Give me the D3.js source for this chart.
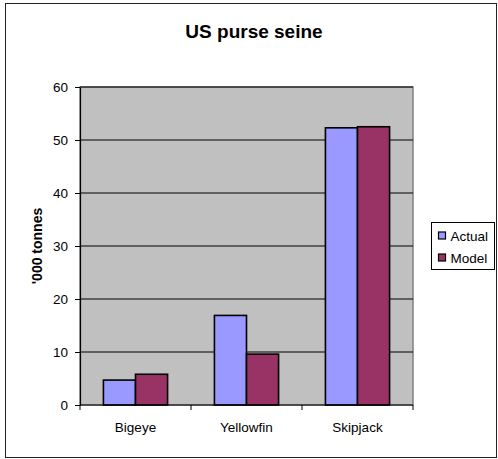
<!DOCTYPE html>
<html>
<head>
<meta charset="utf-8">
<script src="https://cdn.jsdelivr.net/npm/d3@7"></script>
<style>
  html, body { margin: 0; padding: 0; background: #fff; }
  svg { display: block; font-family: "Liberation Sans", Arial, sans-serif; }
</style>
</head>
<body>
<svg id="chart" width="498" height="459"></svg>
<script>
// Catch by species, thousand tonnes
const categories = ["Bigeye", "Yellowfin", "Skipjack"];
const seriesNames = ["Actual", "Model"];
const actual = [4.7, 16.9, 52.3];
const model = [5.8, 9.6, 52.5];
const yTicks = [0, 10, 20, 30, 40, 50, 60];
const colors = ["#9999ff", "#993366"];

const svg = d3.select("#chart");
const plot = { left: 80, right: 413, top: 87, bottom: 405 };
const labelSize = 13.5;

// Outer frame
svg.append("rect")
  .attr("x", 5.5).attr("y", 3.5)
  .attr("width", 491).attr("height", 454)
  .attr("fill", "#fff").attr("stroke", "#222").attr("stroke-width", 1);

// Title
svg.append("text")
  .attr("x", 254).attr("y", 38)
  .attr("text-anchor", "middle")
  .attr("font-size", 19).attr("font-weight", "bold")
  .text("US purse seine");

const x = d3.scaleBand().domain(categories).range([plot.left, plot.right]).paddingInner(0).paddingOuter(0);
const inner = d3.scaleBand().domain(seriesNames).range([0, x.bandwidth()]).paddingInner(0).paddingOuter(0.73);
const y = d3.scaleLinear().domain([0, 60]).range([plot.bottom, plot.top]);

// Plot area
svg.append("rect")
  .attr("x", plot.left).attr("y", plot.top)
  .attr("width", plot.right - plot.left).attr("height", plot.bottom - plot.top)
  .attr("fill", "#c0c0c0").attr("stroke", "#808080").attr("stroke-width", 1.5);

// Gridlines
svg.append("g").selectAll("line")
  .data(yTicks.filter(d => d > 0))
  .join("line")
  .attr("x1", plot.left).attr("x2", plot.right)
  .attr("y1", d => y(d)).attr("y2", d => y(d))
  .attr("stroke", "#000").attr("stroke-width", 1);

// Bars
const rows = categories.map((c, i) => ({ cat: c, values: [actual[i], model[i]] }));
const groups = svg.append("g").selectAll("g")
  .data(rows).join("g")
  .attr("transform", d => `translate(${x(d.cat)},0)`);
groups.selectAll("rect")
  .data(d => d.values.map((v, j) => ({ name: seriesNames[j], v, j })))
  .join("rect")
  .attr("x", d => inner(d.name))
  .attr("width", inner.bandwidth())
  .attr("y", d => y(d.v))
  .attr("height", d => y(0) - y(d.v))
  .attr("fill", d => colors[d.j])
  .attr("stroke", "#000").attr("stroke-width", 1.6);

// Y axis
const yAxis = d3.axisLeft(y).tickValues(yTicks).tickSize(5).tickPadding(7).tickSizeOuter(0);
const gy = svg.append("g").attr("transform", `translate(${plot.left},0)`).call(yAxis);
gy.select(".domain").attr("stroke", "#000").attr("stroke-width", 1.2);
gy.selectAll("text").attr("font-size", labelSize).attr("font-family", "Liberation Sans, Arial, sans-serif").attr("fill", "#000");

// X axis
const gx = svg.append("g").attr("transform", `translate(0,${plot.bottom})`);
gx.append("line")
  .attr("x1", plot.left).attr("x2", plot.right)
  .attr("stroke", "#000").attr("stroke-width", 1.2);
gx.selectAll("line.tick")
  .data(categories.concat(["end"]))
  .join("line").attr("class", "tick")
  .attr("x1", (d, i) => plot.left + i * x.bandwidth())
  .attr("x2", (d, i) => plot.left + i * x.bandwidth())
  .attr("y1", 0).attr("y2", 5)
  .attr("stroke", "#000");
gx.selectAll("text")
  .data(categories).join("text")
  .attr("x", d => x(d) + x.bandwidth() / 2)
  .attr("y", 27)
  .attr("text-anchor", "middle")
  .attr("font-size", labelSize)
  .text(d => d);

// Y axis title
svg.append("text")
  .attr("transform", `translate(42,${(plot.top + plot.bottom) / 2}) rotate(-90)`)
  .attr("text-anchor", "middle")
  .attr("font-size", 14).attr("font-weight", "bold")
  .text("'000 tonnes");

// Legend
const legend = svg.append("g").attr("transform", "translate(431.5,222.5)");
legend.append("rect")
  .attr("width", 63).attr("height", 47)
  .attr("fill", "#fff").attr("stroke", "#000").attr("stroke-width", 1);
const items = legend.selectAll("g.item").data(seriesNames).join("g")
  .attr("class", "item")
  .attr("transform", (d, i) => `translate(7,${13 + i * 22})`);
items.append("rect")
  .attr("x", 0).attr("y", -3.5).attr("width", 7).attr("height", 7)
  .attr("fill", (d, i) => colors[i]).attr("stroke", "#000").attr("stroke-width", 1.2);
items.append("text")
  .attr("x", 12).attr("y", 5)
  .attr("font-size", labelSize)
  .text(d => d);
</script>
</body>
</html>
